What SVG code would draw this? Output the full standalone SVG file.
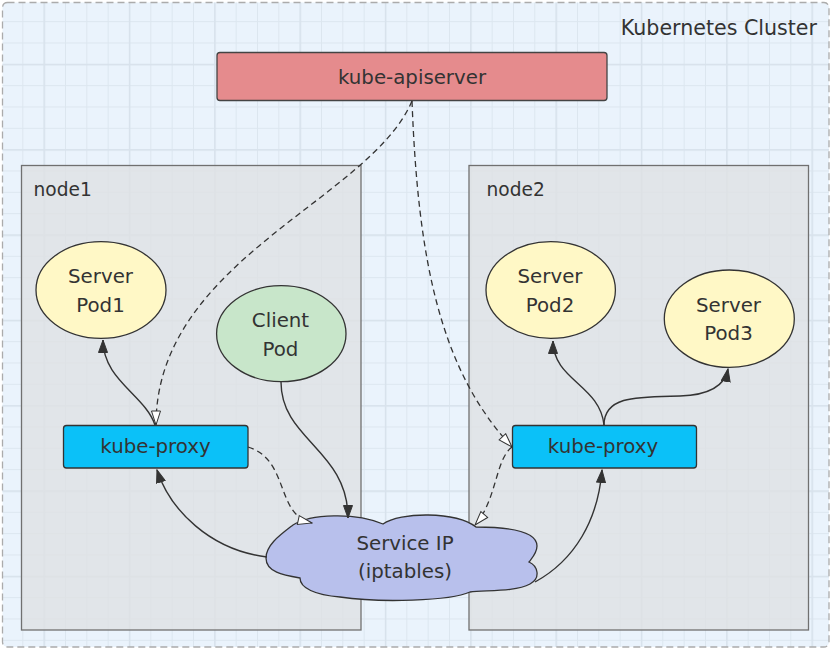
<svg xmlns="http://www.w3.org/2000/svg" width="831" height="650" viewBox="0 0 831 650">
  <defs>
    <pattern id="gridS" width="21.333" height="21.333" patternUnits="userSpaceOnUse" x="1" y="-0.17">
      <path d="M0.5 0 V21.333 M0 0.5 H21.333" fill="none" stroke="#dce6ef" stroke-width="1"/>
    </pattern>
    <pattern id="gridL" width="85.333" height="85.333" patternUnits="userSpaceOnUse" x="-41.83" y="-21.5">
      <path d="M0.5 0 V85.333 M0 0.5 H85.333" fill="none" stroke="#d8e2ec" stroke-width="2"/>
    </pattern>
    <marker id="arrow" viewBox="0 0 14 10" refX="13" refY="5" markerWidth="14" markerHeight="10" orient="auto" markerUnits="userSpaceOnUse">
      <path d="M0.5,0.5 L13,5 L0.5,9.5 Z" fill="#333" stroke="#333" stroke-width="1"/>
    </marker>
    <marker id="hollow" viewBox="0 0 16 11" refX="15" refY="5.5" markerWidth="16" markerHeight="11" orient="auto" markerUnits="userSpaceOnUse">
      <path d="M1,1 L15,5.5 L1,10 Z" fill="#fff" stroke="#333" stroke-width="1"/>
    </marker>
  </defs>
  <style>
    text { font-family: "DejaVu Sans", "Noto Sans", sans-serif; fill: #333; }
    .box { fill: #dfe1e4; fill-opacity: 0.8; stroke: #707070; stroke-width: 1.3; }
    .pod { stroke: #333; stroke-width: 1.3; }
    .yellow { fill: #fff8c6; }
    .green { fill: #c8e6ca; }
    .proxy { fill: #0bc1f8; stroke: #333; stroke-width: 1.3; }
    .lbl { font-size: 19.8px; text-anchor: middle; }
    .solid { fill: none; stroke: #333; stroke-width: 1.4; marker-end: url(#arrow); }
    .dash { fill: none; stroke: #333; stroke-width: 1.3; stroke-dasharray: 6 4; marker-end: url(#hollow); }
  </style>

  <rect width="831" height="650" fill="#ffffff"/>
  <g id="cluster">
    <rect x="2.5" y="2.5" width="826.5" height="644.5" rx="5" fill="#eaf3fc"/>
    <rect x="2.5" y="2.5" width="826.5" height="644.5" rx="5" fill="url(#gridS)"/>
    <rect x="2.5" y="2.5" width="826.5" height="644.5" rx="5" fill="url(#gridL)"/>
    <rect x="2.5" y="2.5" width="826.5" height="644.5" rx="5" fill="none" stroke="#ababab" stroke-width="1.3" stroke-dasharray="7 4"/>
    <text x="817" y="35" font-size="20.6" text-anchor="end">Kubernetes Cluster</text>
  </g>

  <g id="node1">
    <rect class="box" x="21.5" y="165.5" width="339.5" height="464.5"/>
    <text x="33.5" y="196" font-size="18.6">node1</text>
  </g>
  <g id="node2">
    <rect class="box" x="469" y="165.5" width="339.5" height="464.5"/>
    <text x="486.5" y="196" font-size="18.6">node2</text>
  </g>

  <g id="apiserver">
    <rect x="217" y="52.5" width="390" height="48" rx="3" fill="#e58b8d" stroke="#444" stroke-width="1.3"/>
    <text class="lbl" x="412" y="84" font-size="22.3">kube-apiserver</text>
  </g>

  <g id="server-pod1">
    <ellipse class="pod yellow" cx="101" cy="290" rx="65" ry="48.3"/>
    <text class="lbl" x="100.5" y="283">Server</text>
    <text class="lbl" x="100.5" y="311.5">Pod1</text>
  </g>
  <g id="client-pod">
    <ellipse class="pod green" cx="281.3" cy="333.7" rx="64.7" ry="48"/>
    <text class="lbl" x="280.5" y="327">Client</text>
    <text class="lbl" x="280.5" y="355.5">Pod</text>
  </g>
  <g id="server-pod2">
    <ellipse class="pod yellow" cx="550.7" cy="290" rx="64.7" ry="48.3"/>
    <text class="lbl" x="550" y="283">Server</text>
    <text class="lbl" x="550" y="311.5">Pod2</text>
  </g>
  <g id="server-pod3">
    <ellipse class="pod yellow" cx="729.3" cy="318.7" rx="65" ry="48.7"/>
    <text class="lbl" x="728.5" y="311.5">Server</text>
    <text class="lbl" x="728.5" y="340">Pod3</text>
  </g>

  <g id="kube-proxy1">
    <rect class="proxy" x="63.5" y="425.5" width="184.5" height="42.5" rx="3"/>
    <text class="lbl" x="155.5" y="453" font-size="20.4">kube-proxy</text>
  </g>
  <g id="kube-proxy2">
    <rect class="proxy" x="512.5" y="425.5" width="184" height="42.5" rx="3"/>
    <text class="lbl" x="603" y="453" font-size="20.4">kube-proxy</text>
  </g>

  <g id="service-ip">
    <path d="M 293 525 C 310 514, 355 512, 383 524 C 400 512, 455 511, 476 527 C 505 527, 537 530, 537 546 C 537 553, 532 558, 529 562 C 538 566, 541 578, 530 584 C 515 592, 485 590, 470 592 C 450 601, 380 603, 340 597 C 315 595, 300 588, 300 578 C 283 575, 266 572, 266 558 C 266 545, 280 535, 293 525 Z" fill="#b8c0ec" stroke="#333" stroke-width="1.3"/>
    <text class="lbl" x="405" y="550">Service IP</text>
    <text class="lbl" x="405" y="577.5">(iptables)</text>
  </g>

  <g id="connectors">
    <path class="dash" d="M 412 101 C 370 200, 156 260, 156 425"/>
    <path class="dash" d="M 412 101 C 418 260, 440 370, 512 447"/>
    <path class="solid" d="M 155 425 C 145 395, 103 380, 103 340"/>
    <path class="solid" d="M 281 382 C 281 440, 348 450, 348 518"/>
    <path class="dash" d="M 248 447 C 290 460, 275 515, 312 523"/>
    <path class="solid" d="M 267 557 C 210 550, 170 510, 157 470"/>
    <path class="solid" d="M 604 425 C 600 385, 553 380, 553 341"/>
    <path class="solid" d="M 604 425 C 604 395, 640 397, 680 396 C 710 395, 725 385, 728 369"/>
    <path class="dash" d="M 512 447 C 495 460, 497 500, 475 525"/>
    <path class="solid" d="M 535 582 C 575 560, 598 520, 602 470"/>
  </g>
</svg>
